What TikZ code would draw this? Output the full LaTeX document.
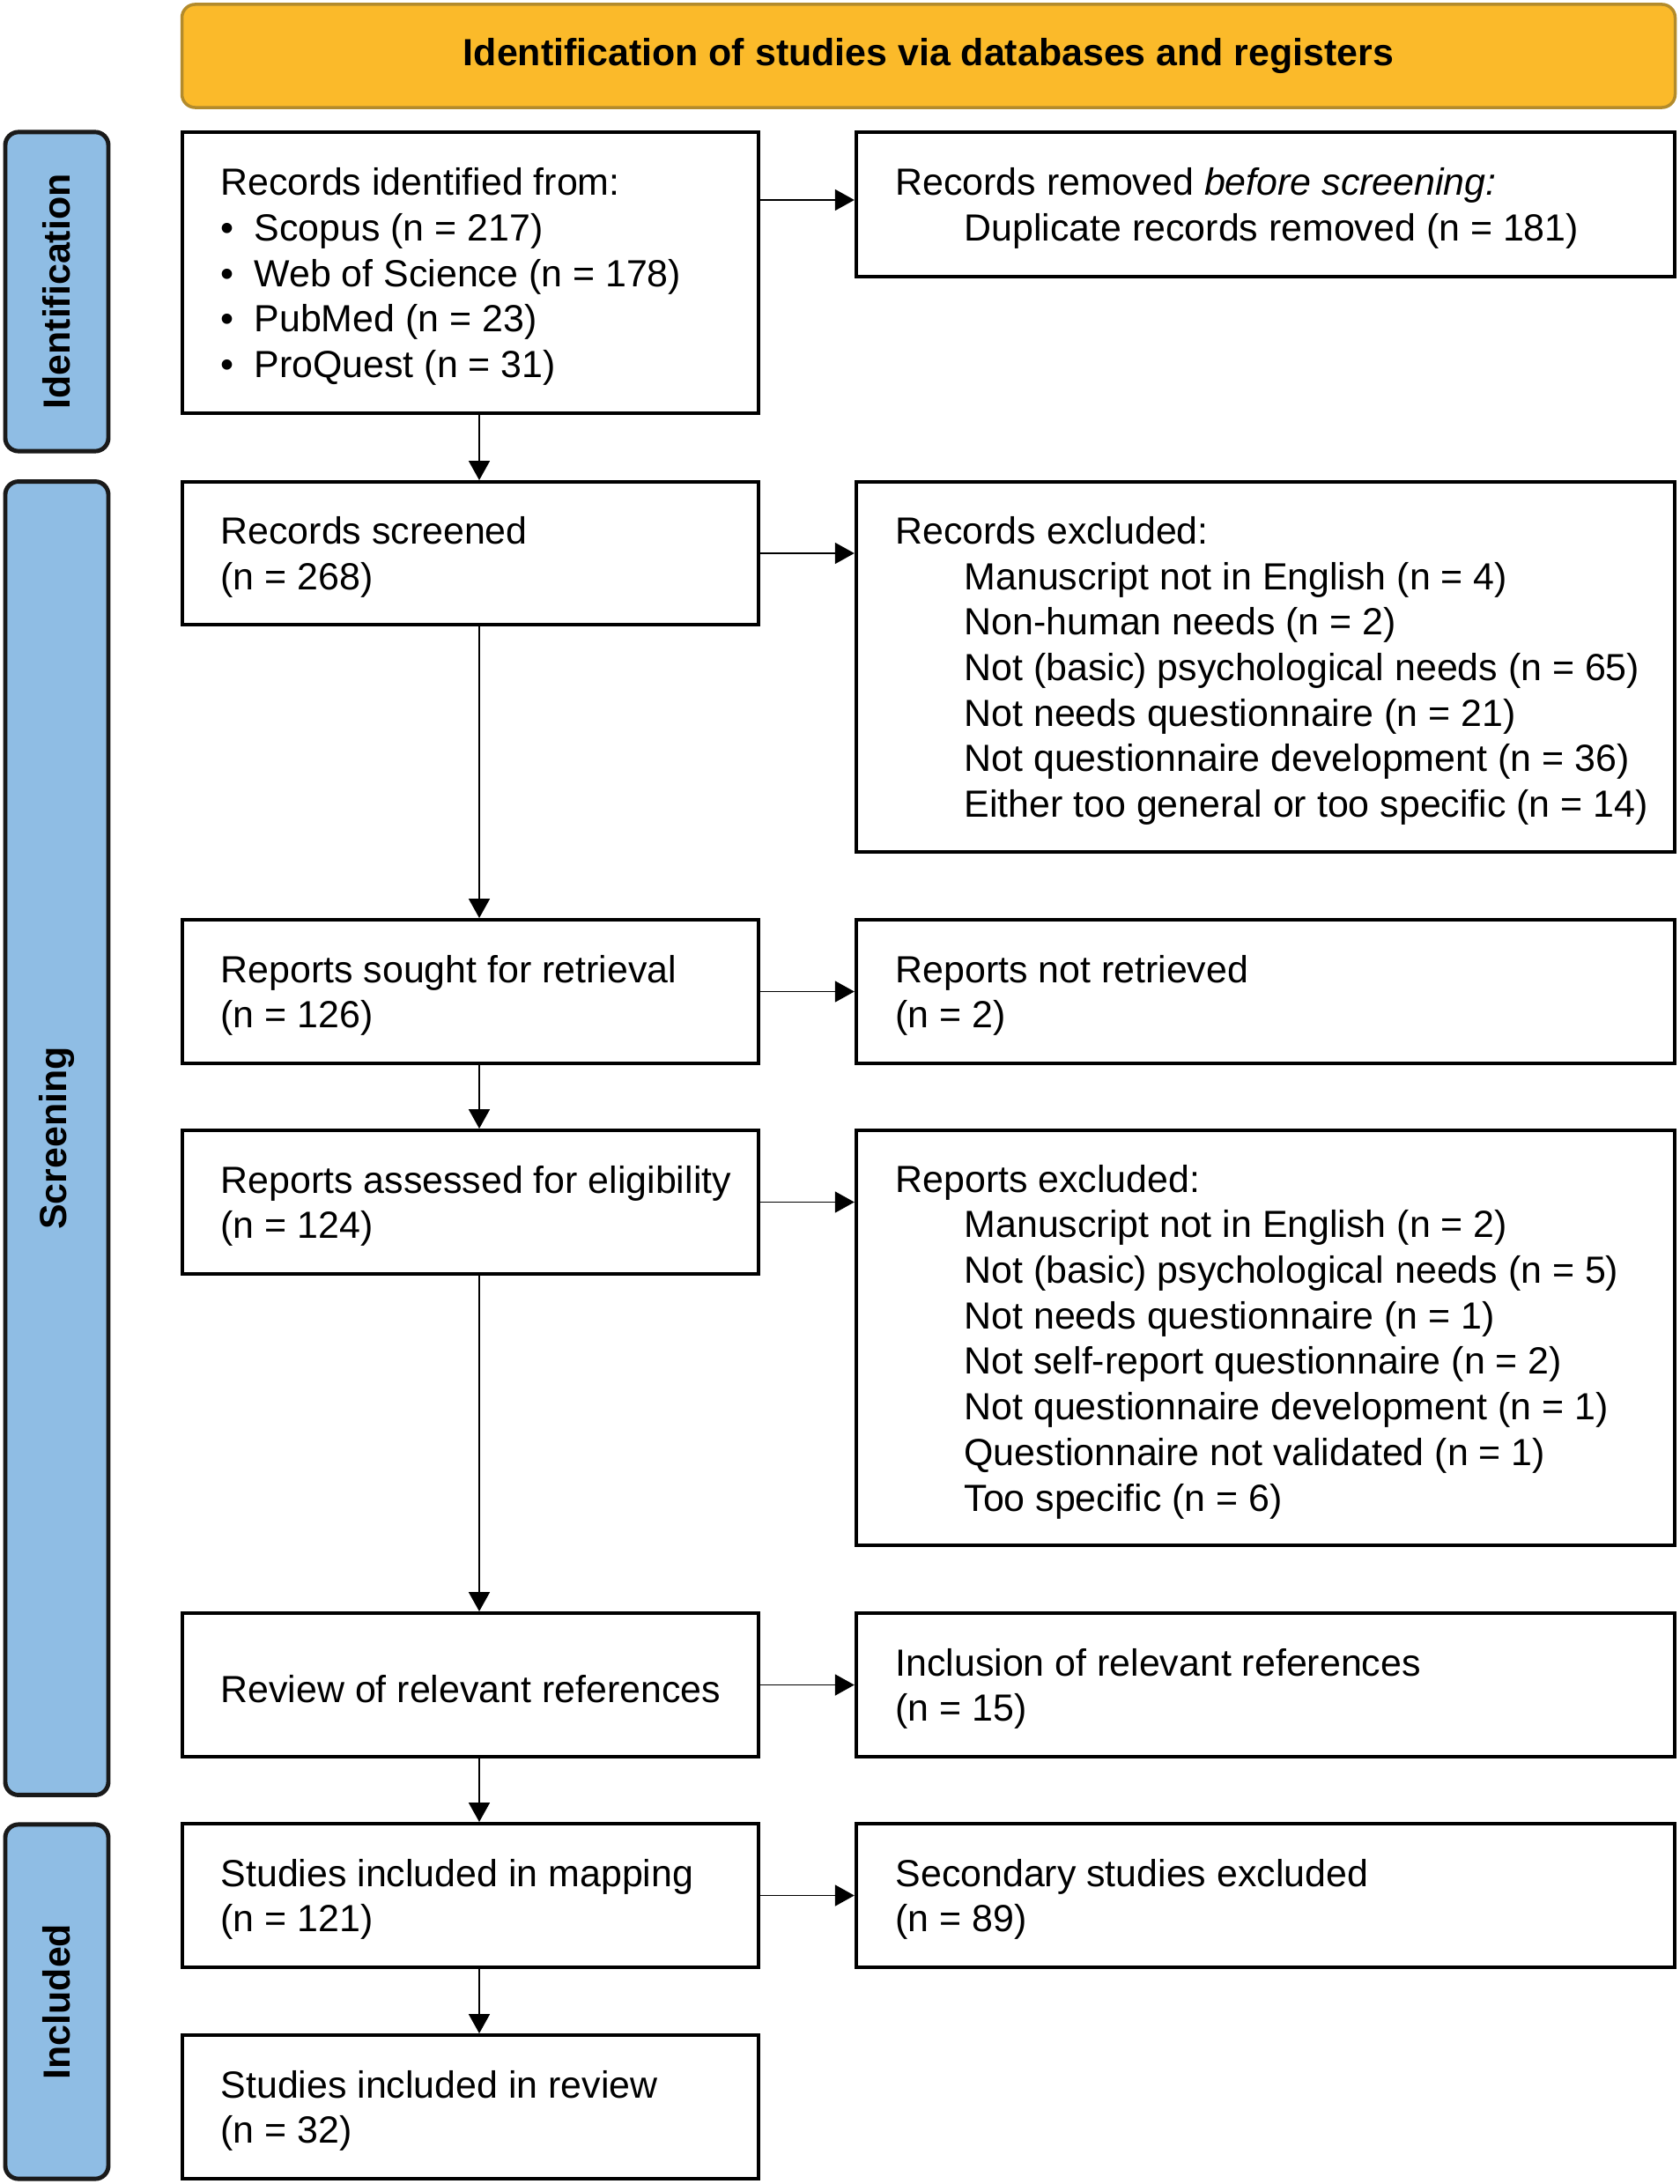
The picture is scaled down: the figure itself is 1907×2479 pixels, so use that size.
\documentclass[tikz,border=0pt]{standalone}
\usepackage{fontspec}
\setmainfont{Liberation Sans}
\usetikzlibrary{arrows.meta}
\definecolor{headfill}{HTML}{FBBA2A}
\definecolor{headline}{HTML}{B38B2C}
\definecolor{sidefill}{HTML}{8FBDE4}
\definecolor{sideline}{HTML}{1A1A1A}
\tikzstyle{lbox} = [rectangle, draw=black, line width=1.1pt, minimum width=6.54cm, inner sep=0pt]
\tikzstyle{rbox} = [rectangle, draw=black, line width=1.1pt, minimum width=9.29cm, inner sep=0pt]
\tikzstyle{side} = [rectangle, rounded corners=0.15cm, draw=sideline, line width=1.4pt, fill=sidefill, minimum width=1.17cm, inner sep=0pt]
\tikzstyle{txt} = [anchor=west, align=left, inner sep=0pt, yshift=-0.045cm, font=\fontsize{12.2}{14.7}\selectfont]
\tikzstyle{arr} = [-{Triangle[length=0.22cm, width=0.24cm]}, line width=0.5pt]
\newcommand{\indt}{\hspace*{0.78cm}}
\newcommand{\bul}{•\hspace{0.23cm}}

\begin{document}
\begin{tikzpicture}[x=0.01cm, y=-0.01cm]

            \useasboundingbox (0,0) rectangle (1907,2479);

            %% header
            \node (head) [rectangle, rounded corners=0.15cm, draw=headline, line width=1pt, fill=headfill, minimum width=16.94cm, minimum height=1.17cm, font=\fontsize{12.2}{14.7}\selectfont\bfseries] at (1054,63.5) {Identification of studies via databases and registers};

            %% phases
            \node (phaseI) [side, minimum height=3.62cm] at (64.5,331) {};
            \node (phaseS) [side, minimum height=14.9cm] at (64.5,1292) {};
            \node (phaseN) [side, minimum height=4.02cm] at (64.5,2272) {};

            \node [rotate=90, font=\fontsize{12.2}{14.7}\selectfont\bfseries] at (phaseI.center) {Identification};
            \node [rotate=90, font=\fontsize{12.2}{14.7}\selectfont\bfseries] at (phaseS.center) {Screening};
            \node [rotate=90, font=\fontsize{12.2}{14.7}\selectfont\bfseries] at (phaseN.center) {Included};

            %% left column
            \node (ident) [lbox, minimum height=3.19cm] at (534,309.5) {};
            \node (screened) [lbox, minimum height=1.62cm] at (534,628) {};
            \node (sought) [lbox, minimum height=1.63cm] at (534,1125.5) {};
            \node (assessed) [lbox, minimum height=1.63cm] at (534,1364.5) {};
            \node (review) [lbox, minimum height=1.63cm] at (534,1912.5) {};
            \node (mapping) [lbox, minimum height=1.63cm] at (534,2151.5) {};
            \node (final) [lbox, minimum height=1.63cm] at (534,2391.5) {};

            \node [txt] at ([xshift=0.45cm]ident.west) {Records identified from:\\
                \bul Scopus (n = 217)\\
                \bul Web of Science (n = 178)\\
                \bul PubMed (n = 23)\\
                \bul ProQuest (n = 31)};
            \node [txt] at ([xshift=0.45cm]screened.west) {Records screened\\(n = 268)};
            \node [txt] at ([xshift=0.45cm]sought.west) {Reports sought for retrieval\\(n = 126)};
            \node [txt] at ([xshift=0.45cm]assessed.west) {Reports assessed for eligibility\\(n = 124)};
            \node [txt] at ([xshift=0.45cm]review.west) {Review of relevant references};
            \node [txt] at ([xshift=0.45cm]mapping.west) {Studies included in mapping\\(n = 121)};
            \node [txt] at ([xshift=0.45cm]final.west) {Studies included in review\\(n = 32)};

            %% right column
            \node (removed) [rbox, minimum height=1.64cm] at (1436.5,232) {};
            \node (excluded) [rbox, minimum height=4.2cm] at (1436.5,757) {};
            \node (notret) [rbox, minimum height=1.63cm] at (1436.5,1125.5) {};
            \node (repexcl) [rbox, minimum height=4.71cm] at (1436.5,1518.5) {};
            \node (inclusion) [rbox, minimum height=1.63cm] at (1436.5,1912.5) {};
            \node (secondary) [rbox, minimum height=1.63cm] at (1436.5,2151.5) {};

            \node [txt] at ([xshift=0.46cm]removed.west) {Records removed \textit{before screening:}\\
                \indt Duplicate records removed (n = 181)};
            \node [txt] at ([xshift=0.46cm]excluded.west) {Records excluded:\\
                \indt Manuscript not in English (n = 4)\\
                \indt Non-human needs (n = 2)\\
                \indt Not (basic) psychological needs (n = 65)\\
                \indt Not needs questionnaire (n = 21)\\
                \indt Not questionnaire development (n = 36)\\
                \indt Either too general or too specific (n = 14)};
            \node [txt] at ([xshift=0.46cm]notret.west) {Reports not retrieved\\(n = 2)};
            \node [txt] at ([xshift=0.46cm]repexcl.west) {Reports excluded:\\
                \indt Manuscript not in English (n = 2)\\
                \indt Not (basic) psychological needs (n = 5)\\
                \indt Not needs questionnaire (n = 1)\\
                \indt Not self-report questionnaire (n = 2)\\
                \indt Not questionnaire development (n = 1)\\
                \indt Questionnaire not validated (n = 1)\\
                \indt Too specific (n = 6)};
            \node [txt] at ([xshift=0.46cm]inclusion.west) {Inclusion of relevant references\\(n = 15)};
            \node [txt] at ([xshift=0.46cm]secondary.west) {Secondary studies excluded\\(n = 89)};

            %% arrows down
            \draw [arr] ([xshift=0.1cm]ident.south) -- ([xshift=0.1cm]screened.north);
            \draw [arr] ([xshift=0.1cm]screened.south) -- ([xshift=0.1cm]sought.north);
            \draw [arr] ([xshift=0.1cm]sought.south) -- ([xshift=0.1cm]assessed.north);
            \draw [arr] ([xshift=0.1cm]assessed.south) -- ([xshift=0.1cm]review.north);
            \draw [arr] ([xshift=0.1cm]review.south) -- ([xshift=0.1cm]mapping.north);
            \draw [arr] ([xshift=0.1cm]mapping.south) -- ([xshift=0.1cm]final.north);

            %% arrows right
            \draw [arr] ([yshift=0.05cm]removed.west -| ident.east) -- ([yshift=0.05cm]removed.west);
            \draw [arr] (screened.east) -- (screened.east -| excluded.west);
            \draw [arr] (sought.east) -- (notret.west);
            \draw [arr] (assessed.east) -- (assessed.east -| repexcl.west);
            \draw [arr] (review.east) -- (inclusion.west);
            \draw [arr] (mapping.east) -- (secondary.west);

        \end{tikzpicture}
\end{document}
